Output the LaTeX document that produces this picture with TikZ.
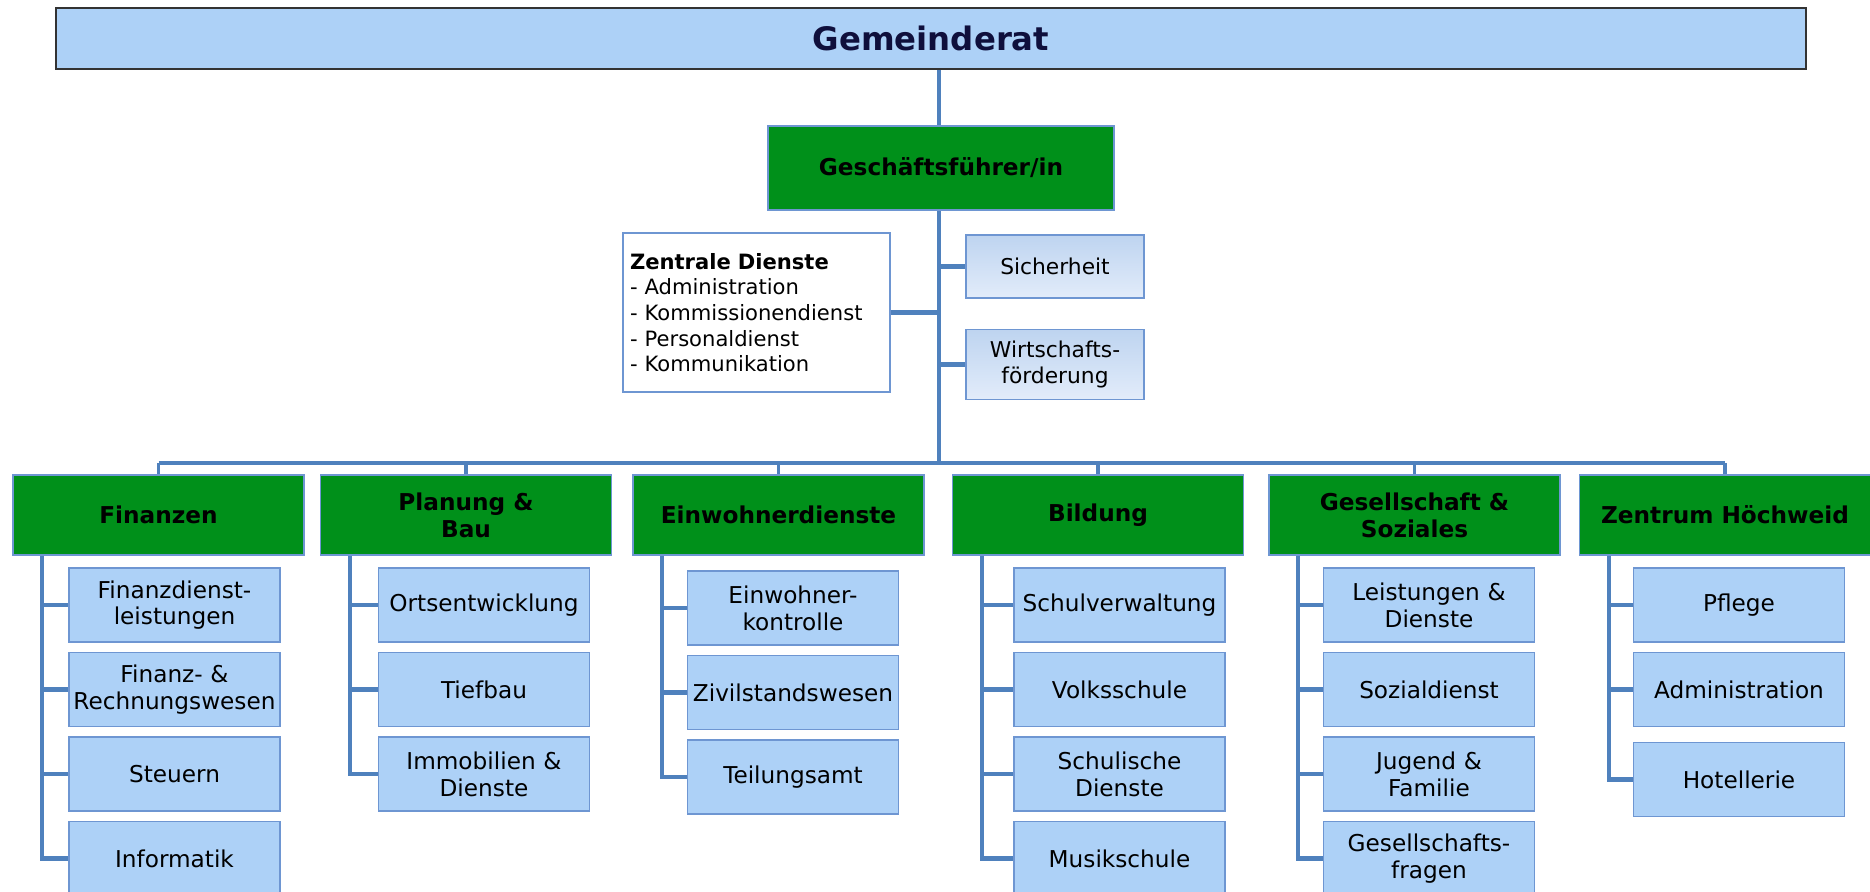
\documentclass[tikz,border=0pt]{standalone}
\usepackage{fontspec}
\setmainfont{DejaVu Sans}
\usetikzlibrary{positioning}

\definecolor{linie}{RGB}{79,129,189}
\definecolor{rahmen}{RGB}{110,150,210}
\definecolor{hellblau}{RGB}{173,209,247}
\definecolor{gruen}{RGB}{0,144,26}
\definecolor{nachtblau}{RGB}{15,15,60}
\definecolor{verlaufoben}{RGB}{190,212,240}
\definecolor{verlaufunten}{RGB}{226,236,250}

\tikzset{
  verbindung/.style={draw=linie, line width=1.2pt},
  ratbox/.style={draw=black!80, fill=hellblau, line width=0.6pt, minimum width=17.5cm, minimum height=0.61cm, font=\fontsize{9.2pt}{11pt}\selectfont\bfseries, text=nachtblau},
  leitung/.style={draw=rahmen, fill=gruen, line width=0.5pt, minimum width=2.91cm, minimum height=0.80cm, align=center, font=\fontsize{6.6pt}{7.6pt}\selectfont\bfseries},
  stelle/.style={draw=rahmen, fill=hellblau, line width=0.5pt, text width=2.05cm, inner xsep=0.03cm, minimum height=0.74cm, align=center, font=\fontsize{6.6pt}{7.6pt}\selectfont},
  stab/.style={draw=rahmen, top color=verlaufoben, bottom color=verlaufunten, line width=0.5pt, text width=1.72cm, inner xsep=0.03cm, minimum height=0.63cm, align=center, font=\fontsize{6.2pt}{7.2pt}\selectfont},
  zdbox/.style={draw=rahmen, fill=white, line width=0.5pt, text width=2.53cm, inner xsep=0.07cm, minimum height=1.59cm, align=left, font=\fontsize{6pt}{7.3pt}\selectfont}
}

\begin{document}
\begin{tikzpicture}[node distance=0.845cm]
	\useasboundingbox (0,0) rectangle (18.70,-8.92);

	% Gemeinderat und Geschaeftsfuehrung
	\node (rat) [ratbox] at (9.31,-0.385) {Gemeinderat};
	\node (gf) [leitung, minimum width=3.46cm, minimum height=0.84cm] at (9.41,-1.68) {Geschäftsführer/in};
	\node (zd) [zdbox] at (7.565,-3.125) {\textbf{Zentrale Dienste}\\- Administration\\- Kommissionendienst\\- Personaldienst\\- Kommunikation};
	\node (sich) [stab] at (10.55,-2.665) {Sicherheit};
	\node (wf) [stab, below of=sich, node distance=0.98cm] {Wirtschafts-\\förderung};
	\coordinate (bus) at (9.39,-4.63);

	% Abteilungen
	\node (fin) [leitung] at (1.585,-5.15) {Finanzen};
	\node (plan) [leitung] at (4.66,-5.15) {Planung \&\\Bau};
	\node (einw) [leitung] at (7.785,-5.15) {Einwohnerdienste};
	\node (bild) [leitung] at (10.98,-5.15) {Bildung};
	\node (ges) [leitung] at (14.145,-5.15) {Gesellschaft \&\\Soziales};
	\node (zen) [leitung] at (17.25,-5.15) {Zentrum Höchweid};

	% Finanzen
	\node (fin1) [stelle] at (1.745,-6.05) {Finanzdienst-\\leistungen};
	\node (fin2) [stelle, below of=fin1] {Finanz- \&\\Rechnungswesen};
	\node (fin3) [stelle, below of=fin2] {Steuern};
	\node (fin4) [stelle, below of=fin3] {Informatik};

	% Planung & Bau
	\node (plan1) [stelle] at (4.84,-6.05) {Ortsentwicklung};
	\node (plan2) [stelle, below of=plan1] {Tiefbau};
	\node (plan3) [stelle, below of=plan2] {Immobilien \&\\Dienste};

	% Einwohnerdienste
	\node (einw1) [stelle] at (7.93,-6.08) {Einwohner-\\kontrolle};
	\node (einw2) [stelle, below of=einw1] {Zivilstandswesen};
	\node (einw3) [stelle, below of=einw2] {Teilungsamt};

	% Bildung
	\node (bild1) [stelle] at (11.195,-6.05) {Schulverwaltung};
	\node (bild2) [stelle, below of=bild1] {Volksschule};
	\node (bild3) [stelle, below of=bild2] {Schulische\\Dienste};
	\node (bild4) [stelle, below of=bild3] {Musikschule};

	% Gesellschaft & Soziales
	\node (ges1) [stelle] at (14.29,-6.05) {Leistungen \&\\Dienste};
	\node (ges2) [stelle, below of=ges1] {Sozialdienst};
	\node (ges3) [stelle, below of=ges2] {Jugend \&\\Familie};
	\node (ges4) [stelle, below of=ges3] {Gesellschafts-\\fragen};

	% Zentrum Hoechweid
	\node (zen1) [stelle] at (17.39,-6.05) {Pflege};
	\node (zen2) [stelle, below of=zen1] {Administration};
	\node (zen3) [stelle, below of=zen2, node distance=0.9cm] {Hotellerie};

	% Verbindungen oben
	\draw[verbindung, line width=1.4pt] (rat.south -| bus) -- (gf.north -| bus);
	\draw[verbindung, line width=1.4pt] (gf.south -| bus) -- (bus);
	\draw[verbindung] (zd.east) -- (zd.east -| bus);
	\draw[verbindung] (sich.west) -- (sich.west -| bus);
	\draw[verbindung] (wf.west) -- (wf.west -| bus);

	% Sammelschiene zu den Abteilungen
	\draw[verbindung, line width=1pt] (fin.north |- bus) -- (zen.north |- bus);
	\draw[verbindung, line width=1pt] (fin.north) -- (fin.north |- bus);
	\draw[verbindung, line width=1pt] (plan.north) -- (plan.north |- bus);
	\draw[verbindung, line width=1pt] (einw.north) -- (einw.north |- bus);
	\draw[verbindung, line width=1pt] (bild.north) -- (bild.north |- bus);
	\draw[verbindung, line width=1pt] (ges.north) -- (ges.north |- bus);
	\draw[verbindung, line width=1pt] (zen.north) -- (zen.north |- bus);

	% Spalten
	\coordinate (finl) at ([xshift=0.3cm]fin.south west);
	\draw[verbindung] (finl) |- (fin4.west);
	\draw[verbindung] (fin1.west -| finl) -- (fin1.west);
	\draw[verbindung] (fin2.west -| finl) -- (fin2.west);
	\draw[verbindung] (fin3.west -| finl) -- (fin3.west);

	\coordinate (planl) at ([xshift=0.3cm]plan.south west);
	\draw[verbindung] (planl) |- (plan3.west);
	\draw[verbindung] (plan1.west -| planl) -- (plan1.west);
	\draw[verbindung] (plan2.west -| planl) -- (plan2.west);

	\coordinate (einwl) at ([xshift=0.3cm]einw.south west);
	\draw[verbindung] (einwl) |- (einw3.west);
	\draw[verbindung] (einw1.west -| einwl) -- (einw1.west);
	\draw[verbindung] (einw2.west -| einwl) -- (einw2.west);

	\coordinate (bildl) at ([xshift=0.3cm]bild.south west);
	\draw[verbindung] (bildl) |- (bild4.west);
	\draw[verbindung] (bild1.west -| bildl) -- (bild1.west);
	\draw[verbindung] (bild2.west -| bildl) -- (bild2.west);
	\draw[verbindung] (bild3.west -| bildl) -- (bild3.west);

	\coordinate (gesl) at ([xshift=0.3cm]ges.south west);
	\draw[verbindung] (gesl) |- (ges4.west);
	\draw[verbindung] (ges1.west -| gesl) -- (ges1.west);
	\draw[verbindung] (ges2.west -| gesl) -- (ges2.west);
	\draw[verbindung] (ges3.west -| gesl) -- (ges3.west);

	\coordinate (zenl) at ([xshift=0.3cm]zen.south west);
	\draw[verbindung] (zenl) |- (zen3.west);
	\draw[verbindung] (zen1.west -| zenl) -- (zen1.west);
	\draw[verbindung] (zen2.west -| zenl) -- (zen2.west);
\end{tikzpicture}
\end{document}
